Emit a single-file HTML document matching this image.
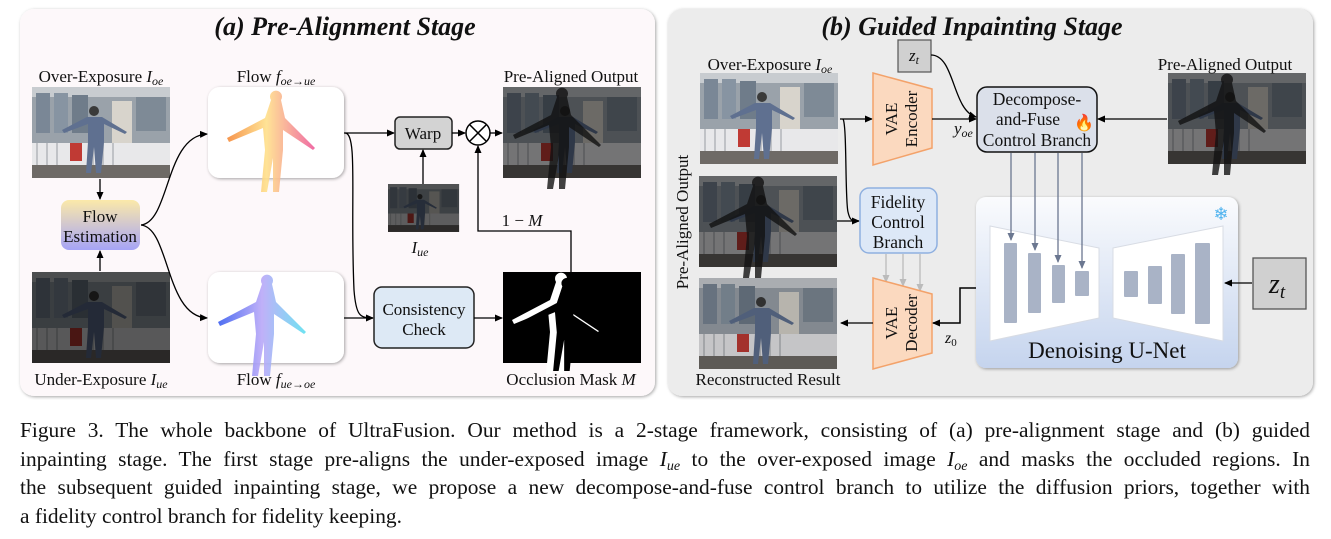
<!DOCTYPE html>
<html><head><meta charset="utf-8"><style>
body{margin:0;width:1331px;height:539px;background:#fff;overflow:hidden;font-family:"Liberation Serif",serif}
svg{position:absolute;left:0;top:0}
.cap{position:absolute;left:20px;top:416px;width:1290px;font-size:21.4px;color:#111}
.cap div{height:28.7px;line-height:28.7px;white-space:nowrap;text-align:justify;text-align-last:justify}
.cap div.l{text-align-last:left}
.cap sub{font-size:14px;line-height:0;vertical-align:-4px}
text{font-family:"Liberation Serif",serif;fill:#111}
</style></head><body>
<svg width="1331" height="400" viewBox="0 0 1331 400">
<defs>
<filter id="sh" x="-5%" y="-5%" width="110%" height="110%"><feDropShadow dx="1" dy="1" stdDeviation="1.5" flood-opacity="0.35"/></filter>
<marker id="ar" markerWidth="8" markerHeight="8" refX="7" refY="4" orient="auto" markerUnits="userSpaceOnUse"><path d="M0,0.5 L8,4 L0,7.5 Z" fill="#000"/></marker>
<marker id="ag" markerWidth="8" markerHeight="8" refX="7" refY="4" orient="auto" markerUnits="userSpaceOnUse"><path d="M0,0.5 L8,4 L0,7.5 Z" fill="#bbb"/></marker>
<marker id="ab" markerWidth="8" markerHeight="8" refX="7" refY="4" orient="auto" markerUnits="userSpaceOnUse"><path d="M0,0.5 L8,4 L0,7.5 Z" fill="#6b7790"/></marker>
<linearGradient id="fe" x1="0" y1="0" x2="0" y2="1"><stop offset="0" stop-color="#fbe9a9"/><stop offset="1" stop-color="#a6a4f6"/></linearGradient>
<linearGradient id="un" x1="0" y1="0" x2="0" y2="1"><stop offset="0" stop-color="#fafbfd"/><stop offset="1" stop-color="#c5d4ee"/></linearGradient>
<linearGradient id="fo" x1="0" y1="0" x2="1" y2="0"><stop offset="0" stop-color="#f58a3a"/><stop offset="0.45" stop-color="#ffe08a"/><stop offset="1" stop-color="#ee5a9a"/></linearGradient>
<linearGradient id="fu" x1="0" y1="0" x2="1" y2="0"><stop offset="0" stop-color="#3b5ef0"/><stop offset="0.5" stop-color="#b9a8f8"/><stop offset="1" stop-color="#5ee0f0"/></linearGradient>
<g id="scene">
<rect width="138" height="91" fill="#9aa2aa"/>
<rect x="0" y="0" width="138" height="10" fill="#c8ccd0"/>
<rect x="4" y="6" width="14" height="40" fill="#7a8796"/><rect x="22" y="6" width="14" height="40" fill="#8794a2"/><rect x="40" y="8" width="16" height="38" fill="#6f7c8a"/>
<rect x="80" y="14" width="20" height="60" fill="#d8d4cc"/><rect x="104" y="10" width="30" height="34" fill="#7e8a96"/>
<rect x="0" y="56" width="138" height="22" fill="#e8e8ea"/>
<g fill="#c0c2c6"><rect x="4" y="56" width="2" height="22"/><rect x="14" y="56" width="2" height="22"/><rect x="24" y="56" width="2" height="22"/><rect x="60" y="56" width="2" height="22"/><rect x="70" y="56" width="2" height="22"/><rect x="80" y="56" width="2" height="22"/></g>
<rect x="0" y="78" width="138" height="13" fill="#6e6a66"/>
<rect x="38" y="56" width="12" height="18" fill="#c03a34"/>
<path d="M30,43 L55,30 L70,30 L95,45 L93,47 L72,37 L72,55 L69,86 L64,86 L62,60 L59,86 L54,86 L56,55 L56,37 L32,46 Z" fill="#5f7090"/>
<circle cx="62" cy="24" r="5" fill="#3a3a3a"/>
</g>
<g id="pers"><path d="M-48,8 L-10,-12 L-4,-30 A6,6 0 1 1 6,-30 L10,-12 L40,18 L38,20 L8,0 L8,20 L4,62 L-2,62 L-2,28 L-8,62 L-14,62 L-10,20 L-12,-2 L-46,12 Z"/></g>
</defs>

<!-- Panel a -->
<rect x="20" y="9" width="635" height="387" rx="14" fill="#fdf8fa" filter="url(#sh)"/>
<text x="345" y="35" font-size="26" font-weight="bold" font-style="italic" text-anchor="middle">(a) Pre-Alignment Stage</text>
<text x="101" y="82" font-size="17" text-anchor="middle">Over-Exposure <tspan font-style="italic">I</tspan><tspan font-style="italic" font-size="12" dy="3">oe</tspan></text>
<use href="#scene" x="32" y="87"/>
<rect x="61" y="200" width="79" height="50" rx="8" fill="url(#fe)"/>
<text x="100" y="222" font-size="17" text-anchor="middle">Flow</text>
<text x="100" y="242" font-size="17" text-anchor="middle">Estimation</text>
<g transform="translate(32,272)"><use href="#scene"/><rect width="138" height="91" fill="#000" opacity="0.62"/></g>
<text x="101" y="385" font-size="17" text-anchor="middle">Under-Exposure <tspan font-style="italic">I</tspan><tspan font-style="italic" font-size="12" dy="3">ue</tspan></text>
<line x1="100" y1="179" x2="100" y2="199" stroke="#000" stroke-width="1.3" marker-end="url(#ar)"/>
<line x1="100" y1="271" x2="100" y2="251" stroke="#000" stroke-width="1.3" marker-end="url(#ar)"/>
<path d="M141,225 C170,222 165,136 207,134" fill="none" stroke="#000" stroke-width="1.3" marker-end="url(#ar)"/>
<path d="M141,225 C170,228 165,316 207,318" fill="none" stroke="#000" stroke-width="1.3" marker-end="url(#ar)"/>
<text x="276" y="82" font-size="17" text-anchor="middle">Flow <tspan font-style="italic">f</tspan><tspan font-style="italic" font-size="12" dy="3">oe→ue</tspan></text>
<rect x="208" y="87" width="136" height="91" rx="12" fill="#fff" filter="url(#sh)"/>
<g transform="translate(275,130)" fill="url(#fo)" opacity="0.9"><use href="#pers"/></g>
<rect x="208" y="272" width="136" height="91" rx="12" fill="#fff" filter="url(#sh)"/>
<g transform="translate(266,314)" fill="url(#fu)" opacity="0.9"><use href="#pers"/></g>
<text x="276" y="385" font-size="17" text-anchor="middle">Flow <tspan font-style="italic">f</tspan><tspan font-style="italic" font-size="12" dy="3">ue→oe</tspan></text>
<line x1="344" y1="133" x2="394" y2="133" stroke="#000" stroke-width="1.3" marker-end="url(#ar)"/>
<path d="M345,133 C358,133 350,200 354,290 C356,316 360,318 373,318" fill="none" stroke="#000" stroke-width="1.3" marker-end="url(#ar)"/>
<line x1="344" y1="318" x2="373" y2="318" stroke="#000" stroke-width="1.3"/>
<rect x="395" y="117" width="57" height="32" rx="5" fill="#d3d3d3" stroke="#222" stroke-width="1.5"/>
<text x="423" y="139" font-size="17" text-anchor="middle">Warp</text>
<line x1="452" y1="133" x2="465" y2="133" stroke="#000" stroke-width="1.3" marker-end="url(#ar)"/>
<circle cx="478" cy="133" r="12" fill="#fff" stroke="#000" stroke-width="1.5"/>
<path d="M470,125 L486,141 M486,125 L470,141" stroke="#000" stroke-width="1.5"/>
<line x1="490" y1="133" x2="502" y2="133" stroke="#000" stroke-width="1.3" marker-end="url(#ar)"/>
<g transform="translate(503,87)"><use href="#scene"/><rect width="138" height="91" fill="#000" opacity="0.5"/><g transform="translate(58,40)" fill="#111" opacity="0.8"><use href="#pers"/></g></g>
<text x="571" y="82" font-size="17" text-anchor="middle">Pre-Aligned Output</text>
<g transform="translate(388,184) scale(0.515,0.527)"><use href="#scene"/><rect width="138" height="91" fill="#000" opacity="0.6"/></g>
<line x1="423" y1="184" x2="423" y2="150" stroke="#000" stroke-width="1.3" marker-end="url(#ar)"/>
<text x="420" y="253" font-size="17" font-style="italic" text-anchor="middle">I<tspan font-size="12" dy="3">ue</tspan></text>
<path d="M571,272 L571,231 L478,231 L478,146" fill="none" stroke="#000" stroke-width="1.3" marker-end="url(#ar)"/>
<text x="522" y="226" font-size="17" text-anchor="middle">1 − <tspan font-style="italic">M</tspan></text>
<rect x="374" y="287" width="100" height="61" rx="8" fill="#dde9f5" stroke="#222" stroke-width="1.5"/>
<text x="424" y="315" font-size="17" text-anchor="middle">Consistency</text>
<text x="424" y="335" font-size="17" text-anchor="middle">Check</text>
<line x1="474" y1="318" x2="502" y2="318" stroke="#000" stroke-width="1.3" marker-end="url(#ar)"/>
<rect x="503" y="272" width="138" height="91" fill="#000"/>
<g transform="translate(560,312)" fill="#fff"><use href="#pers"/></g>
<g transform="translate(566,314)" fill="#000"><use href="#pers" transform="scale(0.92)"/></g>
<text x="571" y="385" font-size="17" text-anchor="middle">Occlusion Mask <tspan font-style="italic">M</tspan></text>

<!-- Panel b -->
<rect x="668" y="9" width="645" height="387" rx="14" fill="#ececec" filter="url(#sh)"/>
<text x="972" y="35" font-size="26" font-weight="bold" font-style="italic" text-anchor="middle">(b) Guided Inpainting Stage</text>
<rect x="898" y="40" width="33" height="32" fill="#d0d0d0" stroke="#555" stroke-width="1.2"/>
<text x="914" y="61" font-size="17" font-style="italic" text-anchor="middle">z<tspan font-size="12" dy="3">t</tspan></text>
<text x="770" y="70" font-size="17" text-anchor="middle">Over-Exposure <tspan font-style="italic">I</tspan><tspan font-style="italic" font-size="12" dy="3">oe</tspan></text>
<use href="#scene" x="700" y="73"/>
<g transform="translate(699,176)"><use href="#scene"/><rect width="138" height="91" fill="#000" opacity="0.5"/><g transform="translate(58,40)" fill="#111" opacity="0.8"><use href="#pers"/></g></g>
<g transform="translate(699,278)"><use href="#scene"/><rect width="138" height="91" fill="#000" opacity="0.15"/></g>
<text x="768" y="385" font-size="17" text-anchor="middle">Reconstructed Result</text>
<text transform="translate(688,222) rotate(-90)" font-size="17" text-anchor="middle">Pre-Aligned Output</text>
<line x1="840" y1="119" x2="872" y2="119" stroke="#000" stroke-width="1.3" marker-end="url(#ar)"/>
<path d="M843,119 C847,125 845,200 848,212 C850,221 852,221 859,221" fill="none" stroke="#000" stroke-width="1.3" marker-end="url(#ar)"/>
<line x1="837" y1="221" x2="859" y2="221" stroke="#000" stroke-width="1.3"/>
<path d="M873,73 L932,89 L932,148 L873,165 Z" fill="#fbd9bf" stroke="#f3a26a" stroke-width="1.5"/>
<text transform="translate(897,119) rotate(-90)" font-size="17" text-anchor="middle">VAE</text>
<text transform="translate(917,119) rotate(-90)" font-size="17" text-anchor="middle">Encoder</text>
<line x1="932" y1="119" x2="976" y2="119" stroke="#000" stroke-width="1.3" marker-end="url(#ar)"/>
<text x="954" y="134" font-size="17" font-style="italic">y<tspan font-size="12" dy="3">oe</tspan></text>
<path d="M931,55 C955,55 952,110 976,117" fill="none" stroke="#000" stroke-width="1.3" marker-end="url(#ar)"/>
<rect x="977" y="87" width="120" height="65" rx="10" fill="#dbe0ea" stroke="#111" stroke-width="1.5"/>
<text x="1037" y="105" font-size="17.5" text-anchor="middle">Decompose-</text>
<text x="1028" y="125" font-size="17.5" text-anchor="middle">and-Fuse</text>
<text x="1037" y="146" font-size="17.5" text-anchor="middle">Control Branch</text>
<text x="1084" y="128" font-size="16" text-anchor="middle" style="font-family:'Noto Color Emoji',sans-serif">🔥</text>
<use href="#scene" x="1168" y="73"/>
<g transform="translate(1168,73)"><rect width="138" height="91" fill="#000" opacity="0.5"/><g transform="translate(58,40)" fill="#111" opacity="0.8"><use href="#pers"/></g></g>
<text x="1225" y="70" font-size="17" text-anchor="middle">Pre-Aligned Output</text>
<line x1="1167" y1="119" x2="1098" y2="119" stroke="#000" stroke-width="1.3" marker-end="url(#ar)"/>
<rect x="860" y="188" width="77" height="65" rx="9" fill="#dde8f7" stroke="#8fb0e0" stroke-width="1.5"/>
<text x="898" y="208" font-size="17.5" text-anchor="middle">Fidelity</text>
<text x="898" y="228" font-size="17.5" text-anchor="middle">Control</text>
<text x="898" y="248" font-size="17.5" text-anchor="middle">Branch</text>
<g stroke="#bbb" stroke-width="1.3"><line x1="886" y1="254" x2="886" y2="282" marker-end="url(#ag)"/><line x1="903" y1="254" x2="903" y2="286" marker-end="url(#ag)"/><line x1="920" y1="254" x2="920" y2="291" marker-end="url(#ag)"/></g>
<path d="M873,278 L932,294 L932,353 L873,369 Z" fill="#fbd9bf" stroke="#f3a26a" stroke-width="1.5"/>
<text transform="translate(897,323) rotate(-90)" font-size="17" text-anchor="middle">VAE</text>
<text transform="translate(917,323) rotate(-90)" font-size="17" text-anchor="middle">Decoder</text>
<line x1="873" y1="323" x2="841" y2="323" stroke="#000" stroke-width="1.3" marker-end="url(#ar)"/>
<rect x="976" y="197" width="262" height="171" rx="10" fill="url(#un)" filter="url(#sh)"/>
<path d="M990,226 L1099,248 L1099,318 L990,341 Z" fill="#fff" stroke="#d8dce4"/>
<path d="M1113,248 L1223,226 L1223,341 L1113,318 Z" fill="#fff" stroke="#d8dce4"/>
<g fill="#a9b3c6"><rect x="1004" y="243" width="13" height="80" rx="1"/><rect x="1028" y="253" width="13" height="60" rx="1"/><rect x="1052" y="265" width="13" height="38" rx="1"/><rect x="1075" y="271" width="14" height="25" rx="1"/>
<rect x="1124" y="271" width="14" height="26" rx="1"/><rect x="1148" y="266" width="14" height="38" rx="1"/><rect x="1171" y="254" width="14" height="60" rx="1"/><rect x="1195" y="243" width="15" height="81" rx="1"/></g>
<g stroke="#6b7790" stroke-width="1.3"><line x1="1011" y1="153" x2="1011" y2="240" marker-end="url(#ab)"/><line x1="1035" y1="153" x2="1035" y2="250" marker-end="url(#ab)"/><line x1="1058" y1="153" x2="1058" y2="262" marker-end="url(#ab)"/><line x1="1082" y1="153" x2="1082" y2="268" marker-end="url(#ab)"/></g>
<text x="1107" y="358" font-size="23" text-anchor="middle">Denoising U-Net</text>
<text x="1221" y="220" font-size="18" text-anchor="middle" style="fill:#4fb3ef">❄</text>
<rect x="1253" y="258" width="53" height="51" fill="#d0d0d0" stroke="#555" stroke-width="1.3"/>
<text x="1277" y="293" font-size="28" font-style="italic" text-anchor="middle">z<tspan font-size="19" dy="5">t</tspan></text>
<line x1="1252" y1="283" x2="1225" y2="283" stroke="#000" stroke-width="1.3" marker-end="url(#ar)"/>
<path d="M976,288 L960,288 L960,323 L933,323" fill="none" stroke="#000" stroke-width="1.5" marker-end="url(#ar)"/>
<text x="945" y="343" font-size="16" font-style="italic">z<tspan font-size="11" dy="3" font-style="normal">0</tspan></text>
</svg>
<div class="cap">
<div>Figure 3. The whole backbone of UltraFusion. Our method is a 2-stage framework, consisting of (a) pre-alignment stage and (b) guided</div>
<div>inpainting stage. The first stage pre-aligns the under-exposed image <i>I<sub>ue</sub></i> to the over-exposed image <i>I<sub>oe</sub></i> and masks the occluded regions. In</div>
<div>the subsequent guided inpainting stage, we propose a new decompose-and-fuse control branch to utilize the diffusion priors, together with</div>
<div class="l">a fidelity control branch for fidelity keeping.</div>
</div>
</body></html>
